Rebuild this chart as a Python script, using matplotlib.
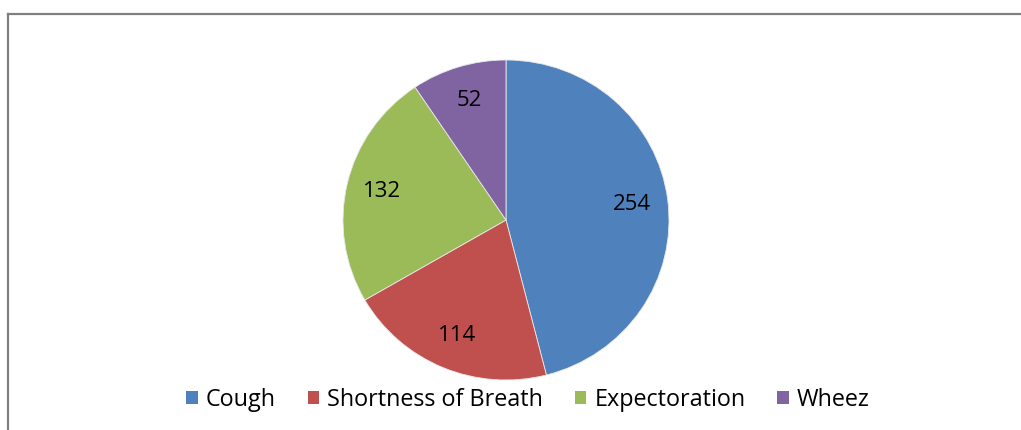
import matplotlib
matplotlib.use("Agg")
import matplotlib.pyplot as plt
from matplotlib.lines import Line2D
from matplotlib.patches import Patch

categories = ["Cough", "Shortness of Breath", "Expectoration", "Wheez"]
values = [254, 114, 132, 52]
colors = ["#4F81BD", "#C0504D", "#9BBB59", "#8064A2"]

plt.rcParams['font.family'] = ['Open Sans', 'DejaVu Sans']

W, H = 1021, 430
fig = plt.figure(figsize=(W / 100, H / 100), dpi=100)

cx, cy, rx, ry = 506, 220, 163, 160
ax = fig.add_axes([(cx - rx) / W, (H - cy - ry) / H, 2 * rx / W, 2 * ry / H])
wedges, texts, autotexts = ax.pie(
    values, colors=colors, startangle=90, counterclock=False,
    autopct=lambda p: f"{round(p * sum(values) / 100):d}", pctdistance=0.78,
    wedgeprops=dict(edgecolor="#e8e8e8", linewidth=0.6),
    textprops=dict(fontsize=16, color="black"))
ax.set_xlim(-1, 1)
ax.set_ylim(-1, 1)
ax.set_aspect('auto')
ax.axis('off')

handles = [Patch(facecolor=c, edgecolor='none') for c in colors]
fig.legend(handles, categories, loc='center', bbox_to_anchor=(528 / W, 1 - 400 / H),
           ncol=4, frameon=False, fontsize=16.8, handlelength=0.5, handleheight=0.5,
           handletextpad=0.35, columnspacing=1.35)

# chart frame (left and top border)
fig.add_artist(Line2D([7.5 / W, 7.5 / W], [0, 1 - 13.5 / H], transform=fig.transFigure,
                      color="#808080", linewidth=1.6))
fig.add_artist(Line2D([7.5 / W, 1], [1 - 13.5 / H, 1 - 13.5 / H], transform=fig.transFigure,
                      color="#808080", linewidth=1.6))

fig.savefig("out.png", dpi=100)
